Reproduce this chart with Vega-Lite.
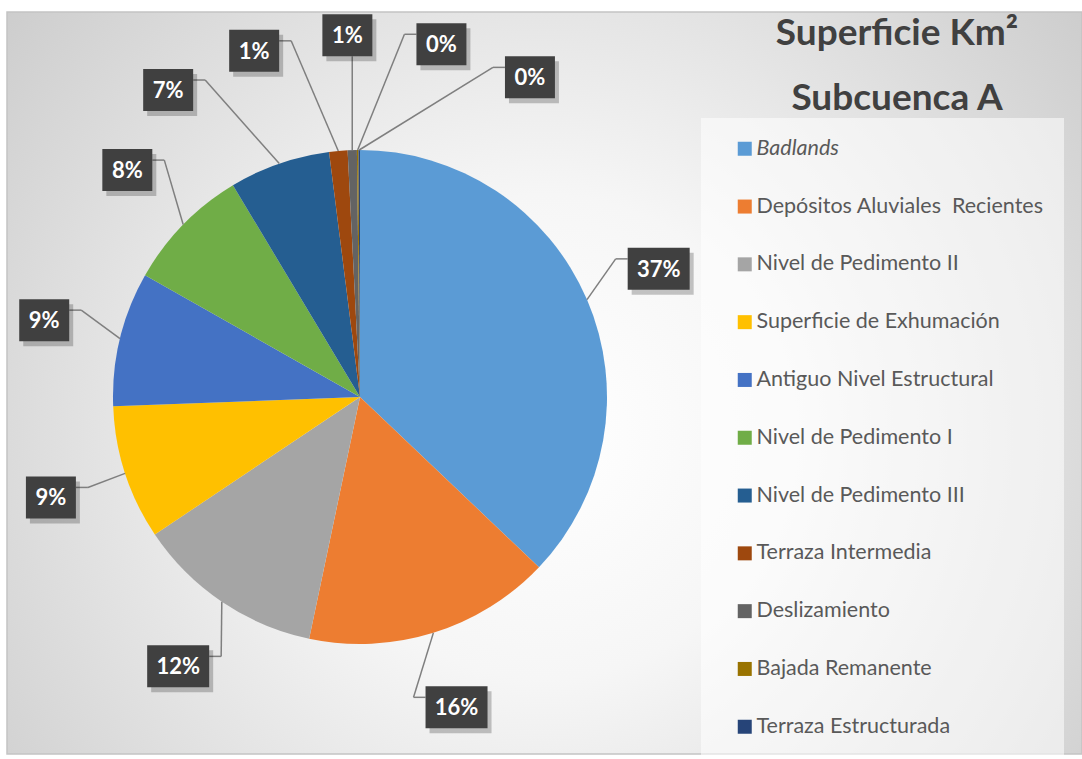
{
  "$schema": "https://vega.github.io/schema/vega-lite/v6.json",
  "width": 1075,
  "height": 742,
  "autosize": {"type": "none"},
  "padding": {"left": 7, "top": 12, "right": 0, "bottom": 5},
  "background": "#ffffff",
  "title": {
    "text": ["Superficie Km²", "Subcuenca A"],
    "anchor": "end",
    "frame": "group",
    "align": "center",
    "baseline": "top",
    "dx": -185,
    "offset": -106,
    "font": "Lato",
    "fontSize": 37,
    "fontWeight": "bold",
    "color": "#404040",
    "lineHeight": 65
  },
  "data": {
    "values": [
      {"orden": 0, "unidad": "Badlands", "pct_superficie": 37.1},
      {"orden": 1, "unidad": "Depósitos Aluviales\u00a0 Recientes", "pct_superficie": 16.2},
      {"orden": 2, "unidad": "Nivel de Pedimento II", "pct_superficie": 12.3},
      {"orden": 3, "unidad": "Superficie de Exhumación", "pct_superficie": 8.8},
      {"orden": 4, "unidad": "Antiguo Nivel Estructural", "pct_superficie": 8.8},
      {"orden": 5, "unidad": "Nivel de Pedimento I", "pct_superficie": 8.2},
      {"orden": 6, "unidad": "Nivel de Pedimento III", "pct_superficie": 6.6},
      {"orden": 7, "unidad": "Terraza Intermedia", "pct_superficie": 1.2},
      {"orden": 8, "unidad": "Deslizamiento", "pct_superficie": 0.6},
      {"orden": 9, "unidad": "Bajada Remanente", "pct_superficie": 0.1},
      {"orden": 10, "unidad": "Terraza Estructurada", "pct_superficie": 0.1}
    ]
  },
  "transform": [
    {"joinaggregate": [{"op": "sum", "field": "pct_superficie", "as": "total"}]},
    {"window": [{"op": "sum", "field": "pct_superficie", "as": "acum"}], "sort": [{"field": "orden"}], "frame": [null, 0]},
    {"calculate": "datum.pct_superficie / datum.total", "as": "fraccion"},
    {"calculate": "2 * PI * (datum.acum - datum.pct_superficie / 2) / datum.total", "as": "ang_medio"},
    {"calculate": "datum.orden >= 6 ? (358 + (datum.orden - 8) * 15) * PI / 180 : datum.ang_medio", "as": "ang_etiqueta"},
    {"calculate": "datum.orden >= 6 ? 362 : 325", "as": "r_etiqueta"},
    {"calculate": "datum.r_etiqueta * sin(datum.ang_etiqueta)", "as": "lx"},
    {"calculate": "datum.r_etiqueta * cos(datum.ang_etiqueta)", "as": "ly"},
    {"calculate": "247 * sin(datum.ang_medio)", "as": "bx"},
    {"calculate": "247 * cos(datum.ang_medio)", "as": "by"},
    {"calculate": "datum.fraccion >= 0.095 ? 31 : 25", "as": "semiancho"},
    {"calculate": "abs(datum.lx) < 40", "as": "vertical"},
    {"calculate": "datum.vertical ? clamp(datum.bx, datum.lx - datum.semiancho + 4, datum.lx + datum.semiancho - 4) : (datum.lx >= 0 ? datum.lx - datum.semiancho : datum.lx + datum.semiancho)", "as": "ax"},
    {"calculate": "datum.vertical ? datum.ly - 21 : datum.ly + 10", "as": "ay"},
    {"calculate": "datum.vertical ? datum.ax : (datum.lx >= 0 ? datum.ax - 12 : datum.ax + 12)", "as": "cx"}
  ],
  "layer": [
    {
      "mark": {"type": "arc", "outerRadius": 247, "strokeWidth": 0},
      "encoding": {
        "x": {"datum": 0, "type": "quantitative", "scale": {"domain": [-353, 722], "zero": false, "nice": false}, "axis": null},
        "y": {"datum": 0, "type": "quantitative", "scale": {"domain": [-357, 385], "zero": false, "nice": false}, "axis": null},
        "theta": {"field": "pct_superficie", "type": "quantitative", "stack": true},
        "order": {"field": "orden", "type": "quantitative"},
        "color": {
          "field": "unidad",
          "type": "nominal",
          "scale": {
            "domain": ["Badlands", "Depósitos Aluviales\u00a0 Recientes", "Nivel de Pedimento II", "Superficie de Exhumación", "Antiguo Nivel Estructural", "Nivel de Pedimento I", "Nivel de Pedimento III", "Terraza Intermedia", "Deslizamiento", "Bajada Remanente", "Terraza Estructurada"],
            "range": ["#5B9BD5", "#ED7D31", "#A5A5A5", "#FFC000", "#4472C4", "#70AD47", "#255E91", "#9E480E", "#636363", "#997300", "#264478"]
          },
          "legend": {
            "title": null,
            "orient": "none",
            "legendX": 694,
            "legendY": 106,
            "padding": 20,
            "fillColor": "rgba(255,255,255,0.55)",
            "symbolType": "square",
            "symbolSize": 196,
            "symbolStrokeWidth": 0,
            "symbolOffset": 13,
            "labelFont": "Lato",
            "labelFontSize": 21.5,
            "labelColor": "#595959",
            "labelOffset": 1,
            "labelLimit": 400,
            "rowPadding": 34.8,
            "encode": {"labels": {"update": {"fontStyle": {"signal": "datum.label === 'Badlands' ? 'italic' : 'normal'"}}}}
          }
        }
      }
    },
    {
      "mark": {"type": "rule", "color": "#7f7f7f", "strokeWidth": 1.5},
      "encoding": {
        "x": {"field": "bx", "type": "quantitative"},
        "y": {"field": "by", "type": "quantitative"},
        "x2": {"field": "cx"},
        "y2": {"field": "ay"}
      }
    },
    {
      "mark": {"type": "rule", "color": "#7f7f7f", "strokeWidth": 1.5},
      "encoding": {
        "x": {"field": "cx", "type": "quantitative"},
        "y": {"field": "ay", "type": "quantitative"},
        "x2": {"field": "ax"},
        "y2": {"field": "ay"}
      }
    },
    {
      "mark": {"type": "point", "filled": true, "size": 1764, "color": "#000000", "opacity": 0.22, "strokeWidth": 0, "xOffset": 4, "yOffset": 5},
      "encoding": {
        "x": {"field": "lx", "type": "quantitative"},
        "y": {"field": "ly", "type": "quantitative"},
        "shape": {"condition": {"test": "datum.fraccion >= 0.095", "value": "M-1.476,-1L1.476,-1L1.476,1L-1.476,1Z"}, "value": "M-1.19,-1L1.19,-1L1.19,1L-1.19,1Z"}
      }
    },
    {
      "mark": {"type": "point", "filled": true, "size": 1764, "color": "#404040", "opacity": 1, "strokeWidth": 0},
      "encoding": {
        "x": {"field": "lx", "type": "quantitative"},
        "y": {"field": "ly", "type": "quantitative"},
        "shape": {"condition": {"test": "datum.fraccion >= 0.095", "value": "M-1.476,-1L1.476,-1L1.476,1L-1.476,1Z"}, "value": "M-1.19,-1L1.19,-1L1.19,1L-1.19,1Z"}
      }
    },
    {
      "mark": {"type": "text", "font": "Lato", "fontSize": 22, "fontWeight": "bold", "color": "#ffffff", "align": "center", "baseline": "middle", "dy": 1},
      "encoding": {
        "x": {"field": "lx", "type": "quantitative"},
        "y": {"field": "ly", "type": "quantitative"},
        "text": {"field": "fraccion", "type": "quantitative", "format": ".0%"}
      }
    }
  ],
  "config": {
    "view": {
      "fill": {"gradient": "radial", "x1": 0.5, "y1": 0.55, "r1": 0, "x2": 0.5, "y2": 0.55, "r2": 0.75, "stops": [{"offset": 0, "color": "#ffffff"}, {"offset": 0.3, "color": "#f6f6f6"}, {"offset": 1, "color": "#c2c2c2"}]},
      "stroke": "#c4c4c4",
      "strokeWidth": 1.5
    }
  }
}
